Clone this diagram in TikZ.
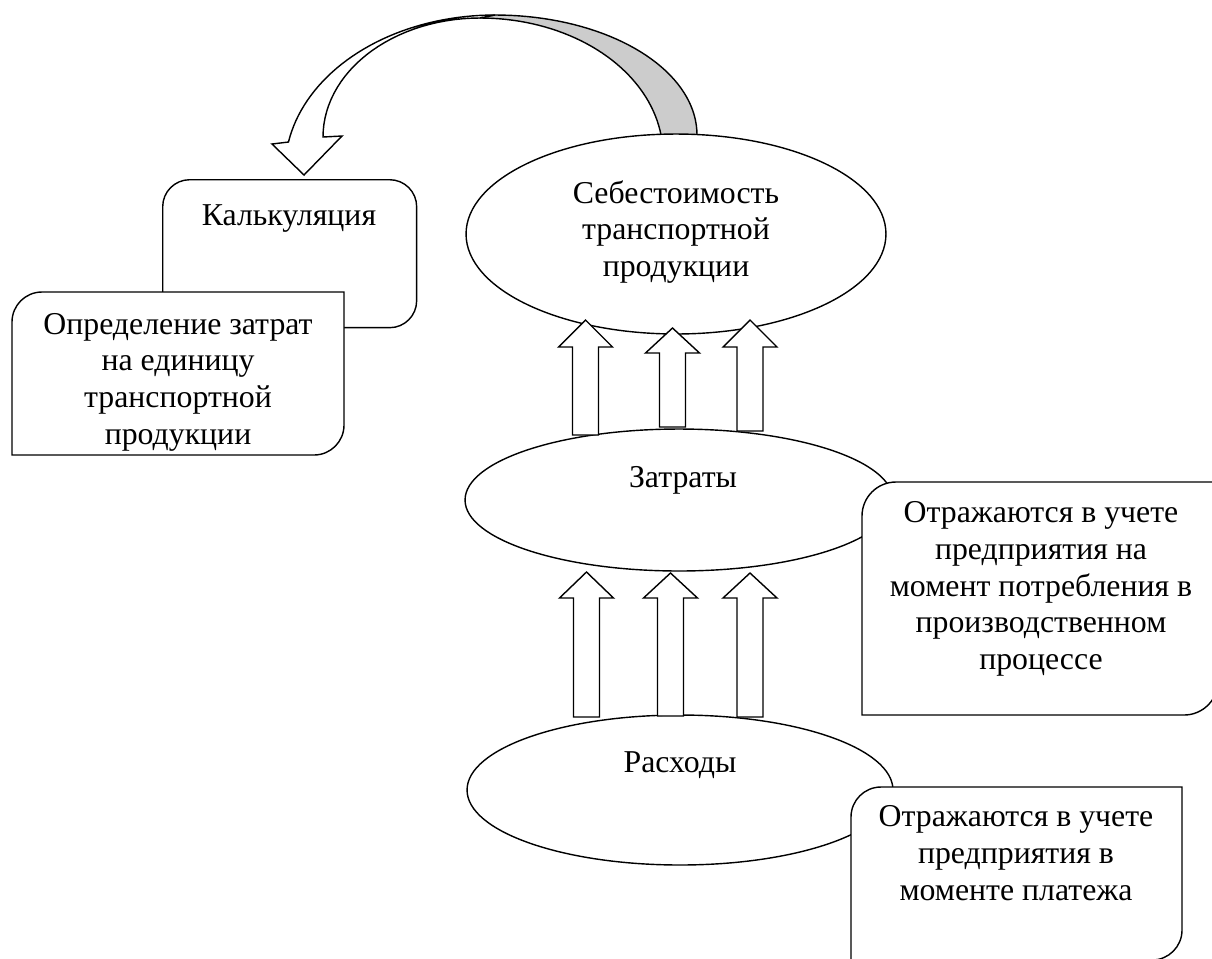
\documentclass[tikz,border=0pt]{standalone}
\usepackage{fontspec}
\setmainfont{Liberation Serif}
\usetikzlibrary{shapes.geometric}
\definecolor{bandgray}{RGB}{204,204,204}
\tikzset{
  pics/blockup/.style n args={2}{code={
    \draw[blockarrow] (-13,0) -- (-13,-#1) -- (-27,-#1) -- (0,-#2) -- (27,-#1) -- (13,-#1) -- (13,0) -- cycle;
  }}
}
\begin{document}
\begin{tikzpicture}[x=0.02cm, y=-0.02cm, line width=0.8pt,
  shapebox/.style={draw, fill=white},
  txt/.style={font=\fontsize{18.1}{20.9}\selectfont, align=center, inner sep=0pt},
  ell/.style={draw, fill=white, ellipse, inner sep=0pt},
  blockarrow/.style={draw, fill=white, line join=miter},
  band/.style={draw, line join=miter}]
\useasboundingbox (0,0) rectangle (1212,958);

% curved arrow: shaded back part
\coordinate (bandtop) at (480,17);
\path[band, fill=bandgray] (bandtop)
  -- plot[domain=90:0, samples=40, variable=\t] ({495+202*cos(\t)},{135-120*sin(\t)})
  -- plot[domain=8.4:90, samples=40, variable=\t] ({480+183*cos(\t)},{155-137*sin(\t)}) -- cycle;
% curved arrow: front part with head
\path[band, fill=white] plot[domain=90:169.6, samples=40, variable=\t] ({495+210*cos(\t)},{170-155*sin(\t)})
  -- (272,144) -- (304,175) -- (342,136) -- (323,137)
  -- plot[domain=180:90, samples=30, variable=\t] ({480+157*cos(\t)},{137-119*sin(\t)}) -- cycle;

% ellipses
\node[ell, minimum width=8.4cm, minimum height=4.0cm] (sebest) at (676,234) {};
\node[txt] (sebtxt) at (676,232) {Себестоимость\\транспортной\\продукции};
\node[ell, minimum width=8.56cm, minimum height=2.84cm] (zatraty) at (679,500) {};
\node[txt] (zattxt) at (683,480) {Затраты};
\node[ell, minimum width=8.52cm, minimum height=3.0cm] (rashody) at (680,790) {};
\node[txt] (rastxt) at (680,765) {Расходы};

% block arrows Затраты -> Себестоимость
\pic at (585.5,435) {blockup={88}{115}};
\pic at (672.5,427) {blockup={74}{99}};
\pic at (750,431) {blockup={84}{111}};
% block arrows Расходы -> Затраты
\pic at (586.5,717) {blockup={119}{145}};
\pic at (670.5,716) {blockup={118}{143}};
\pic at (750,717) {blockup={119}{144}};

% left boxes
\node[shapebox, rounded corners=0.54cm, minimum width=5.08cm, minimum height=2.96cm, anchor=north west, inner sep=0pt] (kalk) at (162,179) {};
\node[txt] (kalktxt) at (289,219) {Калькуляция};
\draw[shapebox] (12,455) -- (12,322) .. controls (12,305.4) and (25.4,292) .. (42,292) -- (344,292) -- (344,425) .. controls (344,441.6) and (330.6,455) .. (314,455) -- cycle;
\node[txt] (opredtxt) at (178,382) {Определение затрат\\на единицу\\транспортной\\продукции};

% right boxes
\draw[shapebox] (862,715) -- (862,516) .. controls (862,497.2) and (877.2,482) .. (896,482) -- (1218,482) -- (1218,681) .. controls (1218,699.8) and (1202.8,715) .. (1184,715) -- cycle;
\node[txt] (otr1txt) at (1041,589) {Отражаются в учете\\предприятия на\\момент потребления в\\производственном\\процессе};
\draw[shapebox] (851,960) -- (851,817) .. controls (851,800.4) and (864.4,787) .. (881,787) -- (1182,787) -- (1182,930) .. controls (1182,946.6) and (1168.6,960) .. (1152,960) -- cycle;
\node[txt] (otr2txt) at (1016,853) {Отражаются в учете\\предприятия в\\моменте платежа};
\end{tikzpicture}
\end{document}
